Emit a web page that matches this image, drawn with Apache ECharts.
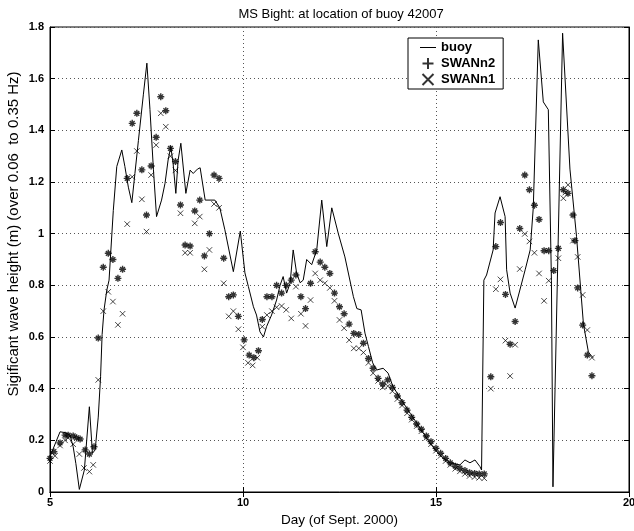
<!DOCTYPE html>
<html>
<head>
<meta charset="utf-8">
<script src="https://cdn.jsdelivr.net/npm/echarts@6/dist/echarts.min.js"></script>
<style>html,body{margin:0;padding:0;background:#fff}#c{width:634px;height:531px}</style>
</head>
<body>
<div id="c"></div>
<script>
// ---- data ----
const title = 'MS Bight: at location of buoy 42007';
const xName = 'Day (of Sept. 2000)';
const yName = 'Sigificant wave height (m) (over 0.06  to 0.35 Hz)';
const xTicks = [5, 10, 15, 20];
const yTicks = [0, 0.2, 0.4, 0.6, 0.8, 1, 1.2, 1.4, 1.6, 1.8];

const buoyDays = [5.0,5.26,5.39,5.52,5.60,5.67,5.76,5.89,6.02,6.10,6.17,6.25,6.31,6.35,6.40,6.47,6.53,6.64,6.73,6.86,6.94,7.03,7.12,7.20,7.29,7.42,7.51,7.59,7.68,7.76,7.89,7.98,8.06,8.13,8.19,8.26,8.32,8.39,8.52,8.63,8.71,8.82,8.89,9.02,9.27,9.40,9.53,9.75,9.93,10.05,10.14,10.27,10.35,10.44,10.53,10.61,10.74,10.87,10.96,11.04,11.13,11.22,11.30,11.39,11.48,11.56,11.65,11.78,11.91,12.04,12.17,12.30,12.47,12.64,12.86,12.95,13.06,13.16,13.25,13.36,13.46,13.63,13.76,13.88,14.07,14.33,14.59,14.84,15.10,15.36,15.62,15.75,15.88,16.01,16.14,16.18,16.24,16.31,16.48,16.53,16.66,16.79,16.83,16.92,17.05,17.31,17.44,17.52,17.65,17.78,17.91,17.99,18.03,18.28,18.47,18.64,18.82,18.95,19.07];
const buoyVals = [0.137,0.233,0.23,0.22,0.175,0.11,0.01,0.085,0.33,0.15,0.163,0.29,0.446,0.61,0.705,0.78,0.82,1.09,1.26,1.324,1.26,1.18,1.12,1.233,1.36,1.54,1.66,1.48,1.247,1.066,1.13,1.195,1.285,1.337,1.27,1.156,1.285,1.35,1.156,1.246,1.233,1.25,1.255,1.13,1.13,1.10,1.015,0.853,1.01,0.848,0.795,0.717,0.685,0.62,0.60,0.64,0.685,0.743,0.80,0.834,0.77,0.808,0.937,0.847,0.81,0.82,0.90,0.88,0.937,1.13,0.95,1.10,1.0,0.91,0.756,0.71,0.705,0.615,0.563,0.50,0.472,0.479,0.46,0.41,0.364,0.305,0.247,0.19,0.143,0.113,0.105,0.124,0.113,0.124,0.098,0.085,0.82,0.84,0.937,1.08,1.143,1.066,0.86,0.77,0.712,0.86,0.937,1.10,1.75,1.51,1.48,0.82,0.02,1.776,1.25,0.99,0.65,0.54,0.52];

const n2Days = [5.0,5.10,5.26,5.39,5.47,5.60,5.69,5.78,5.91,6.02,6.14,6.25,6.38,6.51,6.63,6.76,6.88,7.0,7.13,7.25,7.38,7.50,7.62,7.75,7.87,8.0,8.12,8.25,8.38,8.50,8.63,8.75,8.88,9.0,9.13,9.25,9.38,9.50,9.63,9.75,9.88,10.03,10.16,10.28,10.40,10.5,10.62,10.75,10.87,11.0,11.12,11.25,11.37,11.5,11.62,11.75,11.87,12.0,12.12,12.25,12.37,12.5,12.62,12.75,12.87,13.0,13.12,13.25,13.37,13.5,13.62,13.75,13.87,14.0,14.12,14.25,14.37,14.5,14.62,14.75,14.87,15.0,15.12,15.25,15.37,15.5,15.62,15.75,15.87,16.0,16.12,16.25,16.42,16.55,16.67,16.8,16.92,17.05,17.17,17.3,17.42,17.55,17.67,17.8,17.92,18.05,18.17,18.3,18.42,18.55,18.6,18.67,18.8,18.92,19.04];
const n2Vals = [0.13,0.156,0.19,0.22,0.22,0.217,0.21,0.205,0.163,0.147,0.175,0.596,0.87,0.924,0.90,0.827,0.862,1.214,1.427,1.466,1.247,1.072,1.262,1.373,1.53,1.476,1.33,1.279,1.111,0.956,0.952,1.088,1.13,0.914,1.0,1.227,1.214,0.905,0.756,0.763,0.68,0.589,0.53,0.52,0.547,0.668,0.756,0.756,0.80,0.77,0.80,0.82,0.84,0.756,0.71,0.808,0.93,0.89,0.87,0.846,0.77,0.717,0.69,0.65,0.614,0.61,0.576,0.517,0.479,0.44,0.418,0.434,0.405,0.372,0.346,0.317,0.289,0.263,0.243,0.217,0.195,0.169,0.15,0.13,0.113,0.10,0.092,0.083,0.075,0.072,0.07,0.07,0.446,0.95,1.043,0.765,0.572,0.66,1.02,1.227,1.17,1.11,1.055,0.934,0.934,0.857,0.943,1.17,1.156,1.072,0.973,0.79,0.646,0.53,0.45];

const n1Days = [5.0,5.13,5.26,5.39,5.47,5.60,5.76,5.88,6.02,6.12,6.25,6.38,6.51,6.63,6.76,6.88,7.0,7.13,7.25,7.38,7.5,7.62,7.75,7.87,8.0,8.12,8.25,8.38,8.5,8.63,8.75,8.88,9.0,9.13,9.25,9.38,9.5,9.63,9.75,9.88,10.0,10.13,10.25,10.37,10.5,10.62,10.75,10.87,11.0,11.12,11.25,11.37,11.5,11.62,11.75,11.87,12.0,12.12,12.25,12.37,12.5,12.62,12.75,12.87,13.0,13.12,13.25,13.37,13.5,13.62,13.75,13.87,14.0,14.12,14.25,14.37,14.5,14.62,14.75,14.87,15.0,15.12,15.25,15.37,15.5,15.62,15.75,15.87,16.0,16.12,16.25,16.42,16.55,16.67,16.8,16.92,17.05,17.17,17.3,17.42,17.55,17.67,17.8,17.92,18.17,18.3,18.35,18.42,18.55,18.67,18.8,18.92,19.04];
const n1Vals = [0.12,0.14,0.18,0.20,0.21,0.185,0.147,0.093,0.079,0.105,0.434,0.70,0.775,0.737,0.647,0.69,1.037,1.22,1.32,1.133,1.008,1.227,1.343,1.466,1.414,1.30,1.245,1.079,0.926,0.926,1.04,1.066,0.862,0.937,1.115,1.10,0.808,0.68,0.70,0.63,0.56,0.50,0.49,0.52,0.64,0.685,0.70,0.715,0.72,0.705,0.672,0.795,0.69,0.643,0.743,0.846,0.82,0.808,0.79,0.74,0.666,0.634,0.588,0.556,0.556,0.54,0.50,0.46,0.43,0.405,0.41,0.39,0.36,0.335,0.305,0.28,0.255,0.235,0.21,0.185,0.16,0.14,0.12,0.105,0.09,0.08,0.07,0.062,0.058,0.055,0.053,0.40,0.785,0.823,0.586,0.449,0.57,0.863,0.999,0.97,0.926,0.846,0.74,0.818,0.905,1.137,1.159,1.189,0.973,0.91,0.763,0.627,0.52];

// ---- build ----
const zip = (a, b) => a.map((d, i) => [d, b[i]]);
const FONT = '"Liberation Sans", Arial, sans-serif';
const plusPath = 'path://M5,0L5,10M0,5L10,5';
const starPath = 'path://M5,0L5,10M0,5L10,5M1.6,1.6L8.4,8.4M8.4,1.6L1.6,8.4';
const crossPath = 'path://M0,0L10,10M10,0L0,10';
// legend line icon: thin bar with tiny corner anchors so the box spans the full icon area
const lineIcon = 'path://M0,0L0.01,0L0,0.01Z M0,4.5L16,4.5L16,5.5L0,5.5Z M16,10L15.99,10L16,9.99Z';

const chart = echarts.init(document.getElementById('c'), null, {renderer: 'canvas'});
const gridLine = {show: true, lineStyle: {color: '#555', type: [1, 3], width: 1}};
const labelStyle = {color: '#000', fontFamily: FONT, fontSize: 11, fontWeight: 'bold'};

chart.setOption({
  animation: false,
  backgroundColor: '#fff',
  title: {
    text: title, left: 336, top: 3, textAlign: 'center',
    textStyle: {fontFamily: FONT, fontSize: 13, fontWeight: 'normal', color: '#000'}
  },
  legend: {
    orient: 'vertical', left: 408, top: 38,
    backgroundColor: '#fff', borderColor: '#000', borderWidth: 1,
    padding: [3, 8, 3, 12], itemGap: 3, itemWidth: 16, itemHeight: 11,
    textStyle: {fontFamily: FONT, fontSize: 13, fontWeight: 'bold', color: '#000'},
    data: [
      {name: 'buoy', icon: lineIcon, itemStyle: {color: '#000', borderWidth: 0}},
      {name: 'SWANn2', icon: plusPath},
      {name: 'SWANn1', icon: crossPath}
    ]
  },
  graphic: [{
    type: 'text', x: 14, y: 234, rotation: Math.PI / 2,
    style: {text: yName, fontFamily: FONT, fontSize: 15, fill: '#000', align: 'center', verticalAlign: 'middle'}
  }],
  grid: {left: 50, right: 5, top: 27, bottom: 39, outerBoundsMode: 'none', containLabel: false,
    show: true, borderColor: '#000', borderWidth: 1, backgroundColor: 'transparent'},
  xAxis: [{
    type: 'value', min: xTicks[0], max: xTicks[xTicks.length - 1], interval: 5,
    name: xName, nameLocation: 'middle', nameGap: 21,
    nameTextStyle: {fontFamily: FONT, fontSize: 13.5, color: '#000'},
    axisLine: {show: true, lineStyle: {color: '#000'}},
    axisTick: {show: true, inside: true, length: 5, lineStyle: {color: '#000'}},
    axisLabel: Object.assign({margin: 5}, labelStyle),
    splitLine: gridLine
  }, {
    type: 'value', position: 'top', min: xTicks[0], max: xTicks[xTicks.length - 1], interval: 5,
    axisLine: {show: true, lineStyle: {color: '#000'}},
    axisTick: {show: true, inside: true, length: 5, lineStyle: {color: '#000'}},
    axisLabel: {show: false}, splitLine: {show: false}
  }],
  yAxis: [{
    type: 'value', min: yTicks[0], max: yTicks[yTicks.length - 1], interval: 0.2,
    axisLine: {show: true, lineStyle: {color: '#000'}},
    axisTick: {show: true, inside: true, length: 5, lineStyle: {color: '#000'}},
    axisLabel: Object.assign({margin: 6, formatter: v => String(Math.round(v * 10) / 10)}, labelStyle),
    splitLine: gridLine
  }, {
    type: 'value', position: 'right', min: yTicks[0], max: yTicks[yTicks.length - 1], interval: 0.2,
    axisLine: {show: true, lineStyle: {color: '#000'}},
    axisTick: {show: true, inside: true, length: 5, lineStyle: {color: '#000'}},
    axisLabel: {show: false}, splitLine: {show: false}
  }],
  series: [{
    name: 'buoy', type: 'line', data: zip(buoyDays, buoyVals),
    symbol: 'none', lineStyle: {color: '#000', width: 1}, itemStyle: {color: '#000'}
  }, {
    name: 'SWANn2', type: 'scatter', data: zip(n2Days, n2Vals),
    symbol: starPath, symbolSize: 7,
    itemStyle: {color: 'rgba(0,0,0,0)', borderColor: '#000', borderWidth: 1.4}
  }, {
    name: 'SWANn1', type: 'scatter', data: zip(n1Days, n1Vals),
    symbol: crossPath, symbolSize: 5.5,
    itemStyle: {color: 'rgba(0,0,0,0)', borderColor: '#000', borderWidth: 0.9}
  }]
});
</script>
</body>
</html>
